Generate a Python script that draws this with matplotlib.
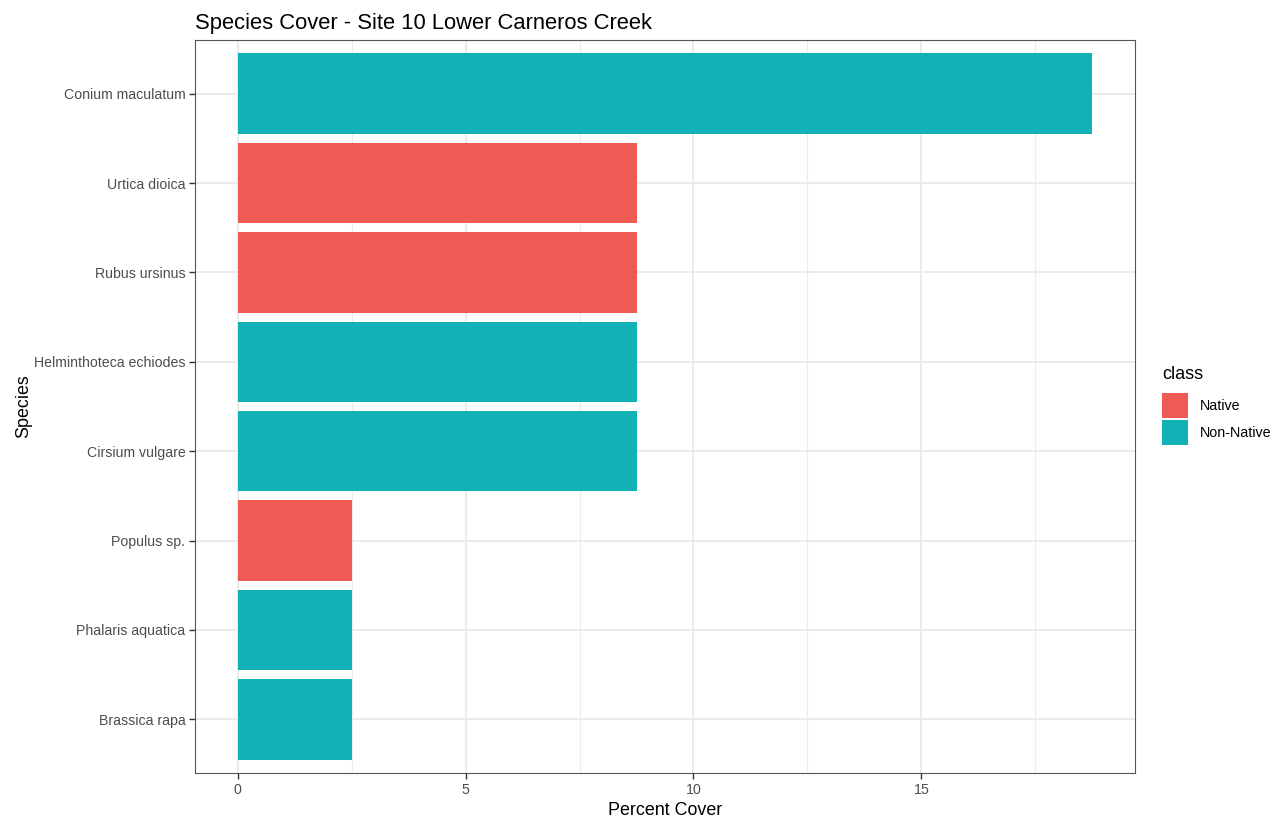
import numpy as np
import matplotlib.pyplot as plt
from matplotlib.patches import Patch

species = ["Conium maculatum", "Urtica dioica", "Rubus ursinus",
           "Helminthoteca echiodes", "Cirsium vulgare", "Populus sp.",
           "Phalaris aquatica", "Brassica rapa"]
cover = [18.75, 8.75, 8.75, 8.75, 8.75, 2.5, 2.5, 2.5]
klass = ["Non-Native", "Native", "Native", "Non-Native", "Non-Native",
         "Native", "Non-Native", "Non-Native"]

colors = {"Native": "#F05A55", "Non-Native": "#12B1B5"}

plt.rcParams['font.family'] = ['Liberation Sans', 'DejaVu Sans']

fig = plt.figure(figsize=(12.86, 8.23), dpi=100)
ax = fig.add_axes([195/1286, 1-773/823, (1135-195)/1286, (773-40)/823])

n = len(species)
ypos = np.arange(n)[::-1]  # first species on top
ax.barh(ypos, cover, height=0.9, color=[colors[c] for c in klass], zorder=3)

xmax = max(cover)
ax.set_xlim(-0.05*xmax, xmax*1.05)
ax.set_ylim(-0.6, n-1+0.6)

ax.set_xticks([0, 5, 10, 15])
ax.set_xticks([2.5, 7.5, 12.5, 17.5], minor=True)
ax.set_yticks(ypos)
ax.set_yticklabels(species)

ax.grid(True, which='major', color='#EBEBEB', linewidth=1.4, zorder=0)
ax.grid(True, which='minor', axis='x', color='#EBEBEB', linewidth=0.8, zorder=0)
ax.tick_params(which='major', length=4, width=1, color='#333333',
               labelcolor='#4D4D4D', labelsize=10.2, pad=3)
ax.tick_params(which='minor', length=0)
for s in ax.spines.values():
    s.set_color('#555555')
    s.set_linewidth(0.8)

ax.set_xlabel("Percent Cover", fontsize=12.9, labelpad=4)
ax.set_ylabel("Species", fontsize=12.9, labelpad=1)
ax.set_title("Species Cover - Site 10 Lower Carneros Creek", fontsize=15.8,
             loc='left', pad=8)

handles = [Patch(facecolor=colors[k], edgecolor='none', label=k)
           for k in ["Native", "Non-Native"]]
leg = fig.legend(handles=handles, title="class", loc='center left',
                 bbox_to_anchor=(1149/1286, 0.507), frameon=False,
                 fontsize=10.3, title_fontsize=13, handlelength=1.8,
                 handleheight=2.3, handletextpad=0.85, labelspacing=0.15)
leg._legend_box.align = "left"
leg._legend_box.sep = 7

fig.savefig("out.png", dpi=100)
